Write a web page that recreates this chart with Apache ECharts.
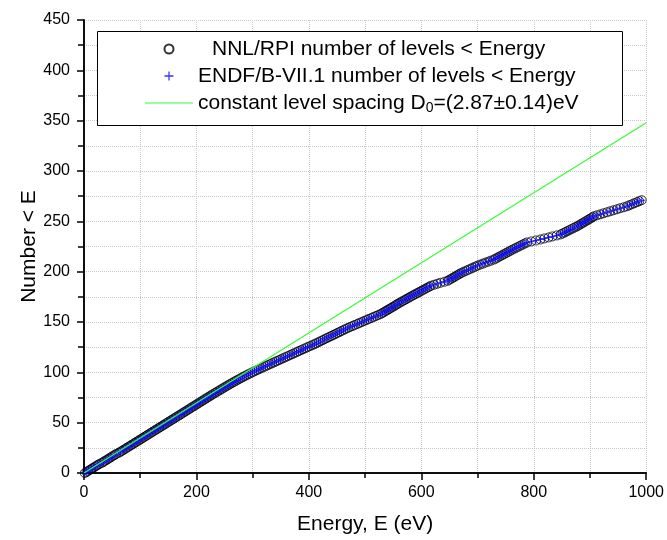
<!DOCTYPE html>
<html>
<head>
<meta charset="utf-8">
<script src="https://cdn.jsdelivr.net/npm/echarts@6/dist/echarts.min.js"></script>
<style>
  html, body { margin: 0; padding: 0; background: #fff; }
  #chart { width: 667px; height: 540px; }
</style>
</head>
<body>
<div id="chart"></div>
<script>
// resonance energies (eV), one per level, in order
const levelEnergies = [
  1.5, 4.6, 7.2, 10.3, 12.9, 15.8, 18.9, 21.4, 24.6, 27.3,
  31.5, 34.6, 37.1, 40.4, 43.0, 45.8, 48.9, 51.5, 54.7, 57.3,
  61.7, 64.5, 67.6, 70.2, 73.4, 76.0, 78.9, 82.1, 84.6, 87.8,
  90.5, 93.4, 96.6, 99.1, 102.2, 104.9, 107.8, 110.9, 113.4, 116.6,
  119.3, 122.1, 125.2, 127.8, 131.0, 133.6, 136.5, 139.7, 142.2, 145.3,
  148.1, 150.9, 154.0, 156.6, 159.8, 162.4, 165.3, 168.5, 171.0, 174.1,
  176.8, 179.6, 182.7, 185.3, 188.5, 191.1, 194.0, 197.2, 199.7, 202.8,
  205.5, 208.3, 211.4, 214.0, 217.2, 219.8, 222.7, 225.9, 228.4, 231.5,
  234.7, 237.6, 240.8, 243.5, 246.8, 249.5, 252.6, 255.9, 258.6, 261.9,
  265.1, 268.4, 271.5, 274.9, 278.2, 281.7, 285.0, 288.6, 292.1, 295.8,
  299.5, 303.3, 307.0, 310.9,
  314.8, 318.6, 322.7, 326.5, 330.6, 334.4, 338.5, 342.3, 346.4, 350.2, 354.3, 358.1,
  362.2, 366.0, 370.1, 373.9, 378.0, 381.8, 385.9, 389.7, 393.8, 397.6, 401.7, 406.0,
  410.0,
  413.5, 417.4, 420.8, 424.7, 428.1, 432.0, 435.6, 439.4, 443.0, 446.8, 450.3, 454.2, 457.6, 461.5, 465.0, 469.0,
  473.0, 477.5, 481.4, 485.9, 489.8, 494.3, 498.2, 502.7, 506.5, 511.0, 515.0, 519.4, 523.5, 528.0,
  530.8, 534.1, 536.9, 540.2, 543.0, 546.3, 549.1, 552.4, 555.0, 558.0,
  561.1, 564.5, 567.4, 570.9, 573.8, 577.3, 580.4, 583.7, 587.0,
  590.2, 593.8, 596.9, 600.5, 603.6, 607.2, 610.3, 613.8, 617.0,
  622.5, 628.4, 634.0, 641.2, 647.0,
  650.0, 653.4, 656.2, 659.5, 662.3, 665.6, 668.5, 672.0,
  675.8, 680.1, 683.9, 688.2, 691.8, 696.0, 700.0,
  704.5, 709.6, 714.1, 719.3, 723.8, 729.0,
  732.2, 735.8, 738.9, 742.5, 745.6, 749.2, 752.3, 755.9, 759.0,
  762.4, 766.3, 769.6, 773.5, 776.8, 780.7, 784.0, 788.0,
  795.5, 803.8, 812.0,
  818.6, 826.4, 833.0, 841.1, 848.0,
  851.4, 855.3, 858.6, 862.5, 865.8, 869.7, 873.0, 877.0,
  879.8, 883.1, 885.9, 889.2, 892.0, 895.3, 898.1, 901.4, 904.2, 907.0,
  912.6, 918.5, 924.0, 930.3, 936.0,
  941.8, 947.9, 953.6, 960.2, 966.0,
  970.1, 974.6, 978.8, 983.4, 987.5, 992.0
];

// constant level spacing line, end points
const spacingLineE = [0, 1000];
const spacingLineN = [0, 348];

const xTicks = [0, 200, 400, 600, 800, 1000];
const yTicks = [0, 50, 100, 150, 200, 250, 300, 350, 400, 450];

const nameNNL = 'NNL/RPI number of levels < Energy';
const nameENDF = 'ENDF/B-VII.1 number of levels < Energy';
const nameLine = 'constant level spacing';

// number of levels below each level energy
const levelPoints = levelEnergies.map((e, i) => [e, i]);
const linePoints = spacingLineE.map((e, i) => [e, spacingLineN[i]]);

const font = 'Liberation Sans, Arial, sans-serif';
const black = '#000';
const gridColor = '#c8c8c8';
const green = '#33ff33';
const plusIcon = 'path://M4.3,0H5.7V4.3H10V5.7H5.7V10H4.3V5.7H0V4.3H4.3Z';

const chart = echarts.init(document.getElementById('chart'));
chart.setOption({
  animation: false,
  textStyle: { fontFamily: font },
  grid: { left: 84, right: 20, top: 20, bottom: 67 },
  graphic: [{
    type: 'rect', left: 97, top: 31, z: 10,
    shape: { width: 525, height: 94 },
    style: { fill: '#fff', stroke: black, lineWidth: 1 }
  }],
  legend: {
    orient: 'vertical', left: 140, top: 32, z: 20,
    itemWidth: 48, itemHeight: 9, itemGap: 3,
    data: [
      { name: nameNNL },
      { name: nameENDF },
      { name: nameLine, icon: 'path://M0,0H48V1.2H0Z', itemStyle: { color: green } }
    ],
    textStyle: {
      fontSize: 21, color: black, fontFamily: font, lineHeight: 24,
      rich: {
        pad: { width: 14 },
        sub: { fontSize: 14, verticalAlign: 'bottom', padding: [10, 0, 0, 0] }
      }
    },
    formatter: name => {
      if (name === nameNNL) return '{pad|}' + name;
      if (name === nameLine) return name + ' D{sub|0}=(2.87±0.14)eV';
      return name;
    }
  },
  xAxis: [{
    type: 'value', position: 'bottom', min: 0, max: 1000, interval: 200,
    name: 'Energy, E (eV)', nameLocation: 'middle', nameGap: 41,
    nameTextStyle: { fontSize: 21, color: black, fontFamily: font },
    axisLine: { lineStyle: { color: black, width: 1.5 } },
    axisTick: { inside: false, length: 7, lineStyle: { color: black, width: 1.5 } },
    minorTick: { show: true, splitNumber: 2, length: 4, lineStyle: { color: black, width: 1.5 } },
    axisLabel: { fontSize: 16, color: black, margin: 12, customValues: xTicks, formatter: v => String(v) },
    splitLine: { show: true, lineStyle: { color: gridColor, type: 'dotted', width: 1 } },
    minorSplitLine: { show: true, lineStyle: { color: gridColor, type: 'dotted', width: 1 } }
  }, {
    type: 'value', position: 'top', min: 0, max: 1000, interval: 100,
    axisLine: { lineStyle: { color: black, width: 1.5 } },
    axisTick: { inside: true, length: 5, lineStyle: { color: black, width: 1.5 } },
    axisLabel: { show: false },
    splitLine: { show: false }
  }],
  yAxis: [{
    type: 'value', position: 'left', min: 0, max: 450, interval: 50,
    name: 'Number < E', nameLocation: 'middle', nameGap: 44, nameRotate: 90, nameMoveOverlap: false,
    nameTextStyle: { fontSize: 21, color: black, fontFamily: font },
    axisLine: { show: true, lineStyle: { color: black, width: 1.5 } },
    axisTick: { show: true, inside: false, length: 7, lineStyle: { color: black, width: 1.5 } },
    minorTick: { show: true, splitNumber: 2, length: 4, lineStyle: { color: black, width: 1.5 } },
    axisLabel: { fontSize: 16, color: black, margin: 14, customValues: yTicks },
    splitLine: { show: true, lineStyle: { color: gridColor, type: 'dotted', width: 1 } },
    minorSplitLine: { show: true, lineStyle: { color: gridColor, type: 'dotted', width: 1 } }
  }, {
    type: 'value', position: 'right', min: 0, max: 450, interval: 25,
    axisLine: { show: true, lineStyle: { color: black, width: 1.5 } },
    axisTick: { show: true, inside: true, length: 6, lineStyle: { color: black, width: 1.5 } },
    axisLabel: { show: false },
    splitLine: { show: false }
  }],
  series: [{
    name: nameNNL, type: 'scatter', data: levelPoints,
    symbol: 'circle', symbolSize: 9,
    itemStyle: { color: 'rgba(255,255,255,0)', borderColor: black, borderWidth: 1 }
  }, {
    name: nameENDF, type: 'scatter', data: levelPoints,
    symbol: plusIcon, symbolSize: 7,
    itemStyle: { color: '#0000ff' }
  }, {
    name: nameLine, type: 'line', data: linePoints, z: 5,
    symbol: 'none', lineStyle: { color: green, width: 1.2 },
    itemStyle: { color: green }
  }]
});
</script>
</body>
</html>
